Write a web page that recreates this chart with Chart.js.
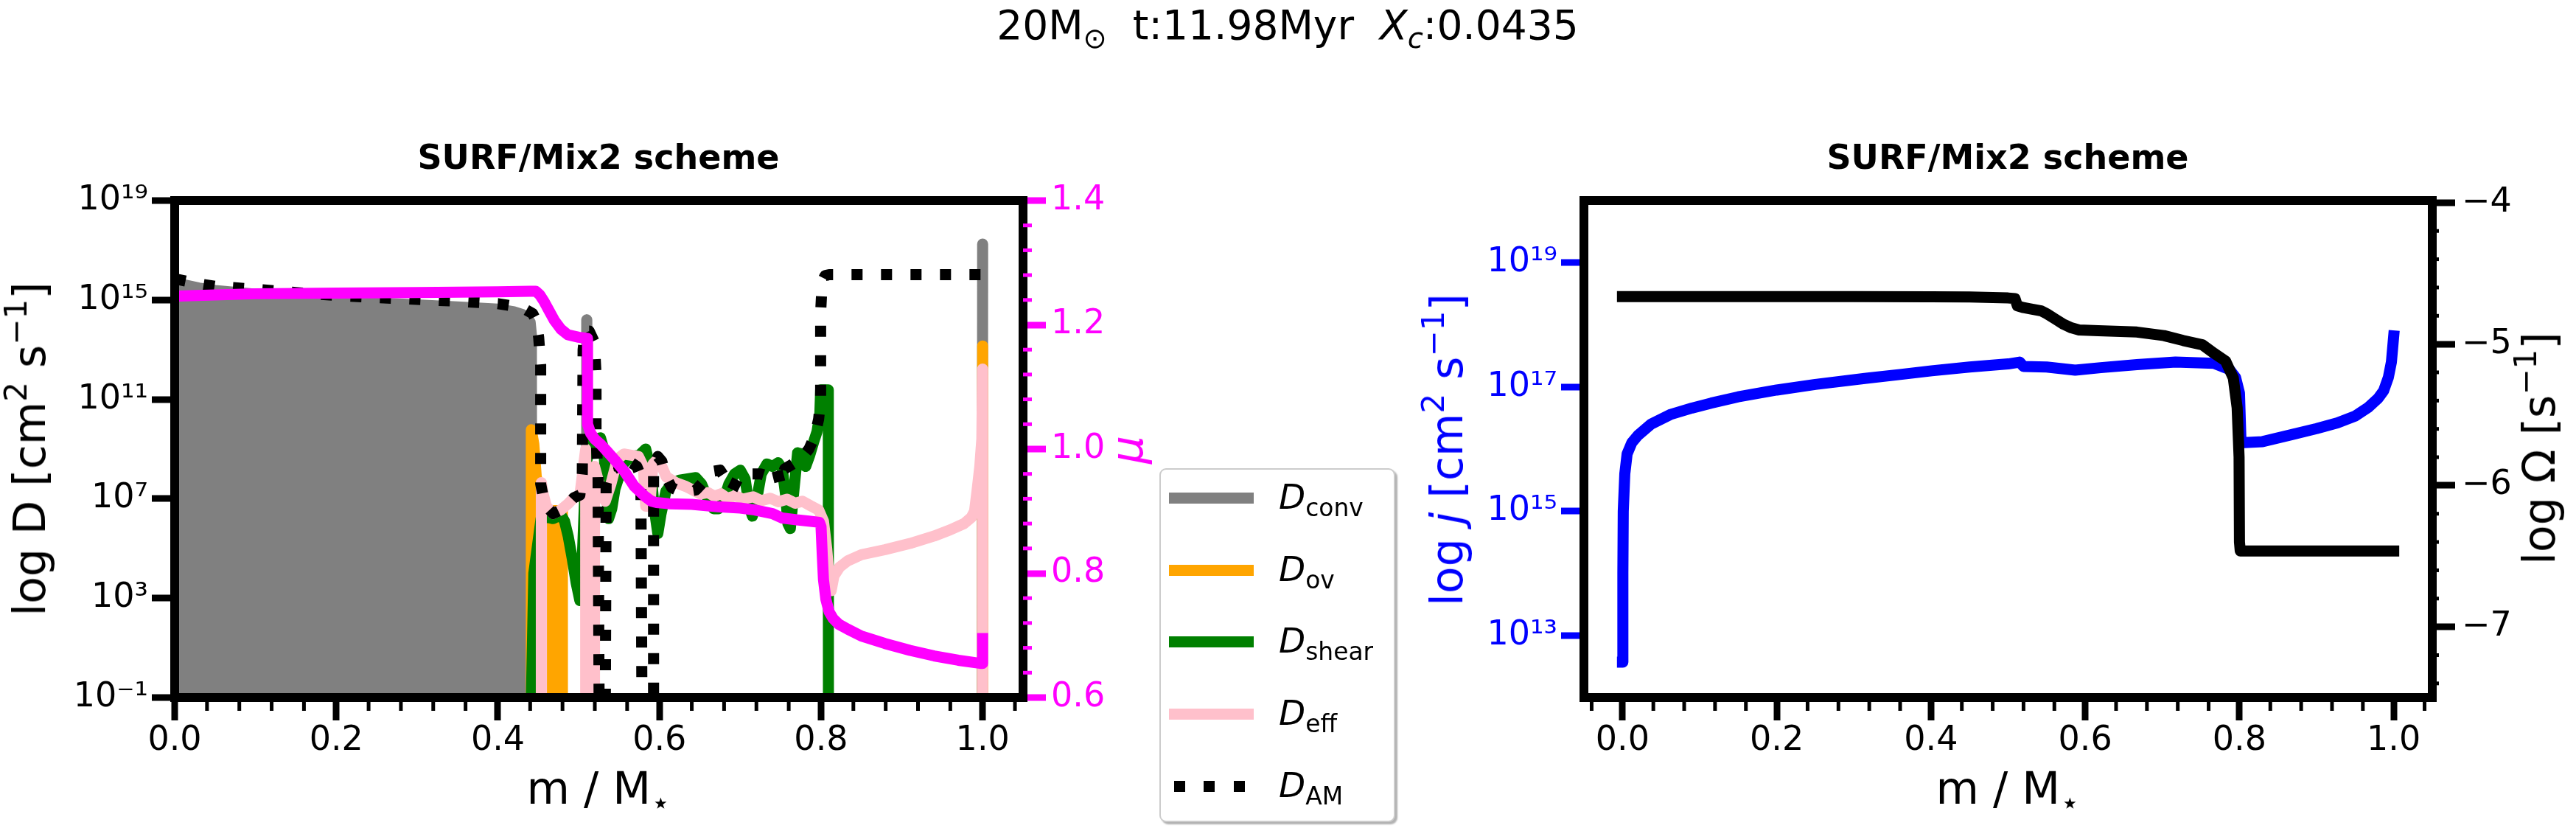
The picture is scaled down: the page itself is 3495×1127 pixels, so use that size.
<!DOCTYPE html>
<html><head><meta charset="utf-8">
<script src="https://cdn.jsdelivr.net/npm/chart.js@4.4.1/dist/chart.umd.min.js"></script>
<style>
html,body{margin:0;padding:0;background:#fff;}
body{width:3495px;height:1127px;position:relative;overflow:hidden;font-family:"DejaVu Sans",sans-serif;}
canvas{position:absolute;left:0;top:0;}
.t{position:absolute;white-space:pre;line-height:1.2;transform:translate(-50%,-50%);color:#000;}
.rot{transform:translate(-50%,-50%) rotate(-90deg);}
.sp{font-size:70%;vertical-align:0.6em;line-height:0;}
.sb{font-size:70%;vertical-align:-0.3em;line-height:0;}
#legend{position:absolute;left:1573px;top:635px;width:320px;height:480px;box-sizing:border-box;border:2px solid #cccccc;border-radius:9px;background:#fff;box-shadow:3px 3px 2px rgba(0,0,0,0.3);}
.ls{position:absolute;height:15px;width:115px;left:1586px;}
.lt{position:absolute;left:1735px;font-size:47px;line-height:1.2;transform:translate(0,-50%);white-space:pre;}
</style></head><body>
<canvas id="c1" width="3495" height="1127"></canvas>
<canvas id="c2" width="3495" height="1127"></canvas>

<div class="t" style="left:1747px;top:34px;font-size:55px;">20M<span class="sb">⊙</span>  t:11.98Myr  <i>X</i><span class="sb"><i>c</i></span>:0.0435</div>
<div class="t" style="left:812px;top:214px;font-size:46px;font-weight:bold;">SURF/Mix2 scheme</div>
<div class="t" style="left:2724px;top:214px;font-size:46px;font-weight:bold;">SURF/Mix2 scheme</div>
<div class="t" style="left:812px;top:1069px;font-size:60px;">m / M<span class="sb">⋆</span></div>
<div class="t" style="left:2724px;top:1069px;font-size:60px;">m / M<span class="sb">⋆</span></div>
<div class="t rot" style="left:40px;top:609px;font-size:60px;">log D [cm<span class="sp">2</span> s<span class="sp">−1</span>]</div>
<div class="t rot" style="left:1529px;top:610px;font-size:60px;color:#FF00FF;"><i>μ</i></div>
<div class="t rot" style="left:1963px;top:610px;font-size:60px;color:#0000FF;">log <i>j</i> [cm<span class="sp">2</span> s<span class="sp">−1</span>]</div>
<div class="t rot" style="left:3445px;top:608px;font-size:60px;">log Ω [s<span class="sp">−1</span>]</div>

<div id="legend"></div>
<div class="ls" style="top:667.5px;background:#808080"></div>
<div class="ls" style="top:765.5px;background:#FFA500"></div>
<div class="ls" style="top:862.5px;background:#008000"></div>
<div class="ls" style="top:960.5px;background:#FFC0CB"></div>
<div class="ls" style="top:1058.5px;left:1593px;width:96px;background:repeating-linear-gradient(to right,#000 0px,#000 15px,rgba(0,0,0,0) 15px,rgba(0,0,0,0) 40.5px)"></div>
<div class="lt" style="top:674px"><i>D</i><span class="sb">conv</span></div>
<div class="lt" style="top:772px"><i>D</i><span class="sb">ov</span></div>
<div class="lt" style="top:869px"><i>D</i><span class="sb">shear</span></div>
<div class="lt" style="top:967px"><i>D</i><span class="sb">eff</span></div>
<div class="lt" style="top:1065px"><i>D</i><span class="sb">AM</span></div>

<script>
// ---------- tick labels ----------
const xTicks = [0, 0.2, 0.4, 0.6, 0.8, 1.0];
const dTicks = [-1, 3, 7, 11, 15, 19];
const muTicks = [0.6, 0.8, 1.0, 1.2, 1.4];
const jTicks = [13, 15, 17, 19];
const omegaTicks = [-7, -6, -5, -4];

// ---------- left panel: log D (values below -1 = zero / off the axis) ----------
const convX = [0, 0.01, 0.03, 0.05, 0.1, 0.15, 0.2, 0.25, 0.3, 0.35, 0.4, 0.42, 0.43, 0.436, 0.44, 0.4415, 0.442, 0.5099, 0.51, 0.5101, 0.9995, 1.0];
const convY = [15.74, 15.62, 15.48, 15.38, 15.23, 15.1, 14.97, 14.88, 14.8, 14.72, 14.63, 14.52, 14.42, 14.3, 14.1, 13.6, -6, -6, 14.2, -6, -6, 17.25];

const ovX = [0, 0.4414, 0.4414, 0.4445, 0.4475, 0.452, 0.4535, 0.4676, 0.4676, 0.4799, 0.4799, 0.9999, 1.0, 1.0];
const ovY = [-6, -6, 9.78, 9.2, 7.9, 7.2, -6, -6, 6.52, 6.52, -6, -6, 13.15, -6];

const shearX = [0, 0.4385, 0.4445, 0.4535, 0.462, 0.4685, 0.478, 0.4825, 0.487, 0.492, 0.497, 0.5015, 0.505, 0.509, 0.515, 0.521, 0.527, 0.531, 0.534, 0.537, 0.541, 0.545, 0.555, 0.565, 0.575, 0.583, 0.589, 0.594, 0.598, 0.602, 0.608, 0.615, 0.625, 0.635, 0.645, 0.652, 0.66, 0.667, 0.673, 0.679, 0.686, 0.693, 0.7, 0.706, 0.711, 0.715, 0.72, 0.726, 0.733, 0.74, 0.747, 0.752, 0.756, 0.759, 0.762, 0.766, 0.771, 0.776, 0.781, 0.786, 0.791, 0.795, 0.7985, 0.7995, 0.809, 0.8092, 1.0];
const shearY = [-6, -6, 4.0, 6.2, 6.25, 6.2, 6.35, 6.1, 5.5, 4.6, 3.6, 2.9, 5.0, 8.4, 9.2, 9.4, 9.45, 9.0, 7.6, 6.2, 6.6, 7.4, 8.4, 8.7, 8.75, 9.0, 8.2, 6.5, 5.6, 6.4, 7.3, 7.6, 7.75, 7.8, 7.85, 7.6, 7.0, 6.6, 6.6, 6.9, 7.6, 8.0, 8.15, 7.8, 6.7, 6.3, 6.9, 8.0, 8.4, 8.3, 8.45, 8.2, 7.2, 6.0, 5.8, 7.2, 8.85, 8.8, 8.3, 8.75, 9.3, 9.7, 10.4, 11.38, 11.38, -6, -6];

const effX = [0, 0.4538, 0.4538, 0.456, 0.46, 0.4685, 0.478, 0.487, 0.494, 0.5015, 0.5087, 0.5087, 0.5196, 0.5196, 0.527, 0.533, 0.54, 0.548, 0.556, 0.565, 0.574, 0.58, 0.583, 0.588, 0.592, 0.598, 0.603, 0.6085, 0.62, 0.633, 0.651, 0.66, 0.668, 0.676, 0.684, 0.694, 0.703, 0.716, 0.726, 0.737, 0.747, 0.758, 0.768, 0.777, 0.787, 0.797, 0.803, 0.807, 0.8105, 0.8125, 0.816, 0.823, 0.833, 0.85, 0.879, 0.91, 0.94, 0.96, 0.977, 0.986, 0.99, 0.993, 0.9965, 0.999, 1.0, 1.0];
const effY = [-6, -6, 7.65, 7.2, 6.7, 6.4, 6.55, 6.8, 7.04, 7.15, 9.0, -6, -6, 8.3, 7.4, 6.9, 7.6, 8.6, 8.8, 8.75, 8.7, 8.3, 6.7, 6.7, 8.4, 8.6, 8.3, 7.88, 7.65, 7.49, 7.19, 7.25, 7.1, 7.2, 7.02, 7.12, 6.98, 7.08, 6.92, 7.02, 6.88, 6.98, 6.82, 6.9, 6.72, 6.55, 6.1, 5.0, 3.6, 3.3, 3.9, 4.25, 4.5, 4.75, 4.95, 5.2, 5.5, 5.75, 6.0, 6.25, 6.5, 7.3, 8.3, 9.4, 12.22, -6];

const amX = [0, 0.03, 0.05, 0.1, 0.15, 0.2, 0.25, 0.3, 0.35, 0.4, 0.42, 0.435, 0.443, 0.447, 0.4505, 0.453, 0.453, 0.456, 0.46, 0.4685, 0.478, 0.487, 0.494, 0.5015, 0.5045, 0.5055, 0.508, 0.513, 0.5195, 0.5215, 0.5215, 0.524, 0.526, 0.5325, 0.534, 0.54, 0.548, 0.556, 0.565, 0.572, 0.577, 0.579, 0.5927, 0.5927, 0.598, 0.603, 0.608, 0.615, 0.625, 0.635, 0.645, 0.655, 0.665, 0.675, 0.682, 0.69, 0.697, 0.705, 0.715, 0.725, 0.735, 0.745, 0.75, 0.755, 0.765, 0.775, 0.785, 0.792, 0.797, 0.7995, 0.7995, 0.8015, 0.805, 0.81, 1.0];
const amY = [15.85, 15.65, 15.55, 15.43, 15.3, 15.18, 15.1, 15.02, 14.95, 14.85, 14.75, 14.6, 14.45, 14.2, 13.5, 12.4, 7.6, 7.1, 6.7, 6.4, 6.55, 6.8, 7.04, 7.15, 8.0, 13.0, 13.75, 13.75, 13.3, 12.0, 9.5, 7.9, -6, -6, 7.6, 8.3, 8.35, 8.0, 8.45, 8.3, 7.9, -6, -6, 8.2, 8.7, 8.5, 7.9, 7.45, 7.3, 7.3, 7.35, 7.7, 8.1, 8.15, 7.8, 7.35, 7.8, 8.05, 8.0, 8.0, 7.9, 8.2, 7.55, 8.2, 8.4, 8.6, 9.0, 9.5, 10.2, 11.0, 14.5, 15.75, 15.98, 16.02, 16.02];

// mean molecular weight (right axis)
const muX = [0, 0.02, 0.05, 0.1, 0.2, 0.3, 0.4, 0.44, 0.447, 0.452, 0.457, 0.462, 0.47, 0.478, 0.4866, 0.5, 0.511, 0.511, 0.515, 0.52, 0.527, 0.5354, 0.545, 0.5567, 0.5689, 0.581, 0.59, 0.5963, 0.6117, 0.64, 0.6725, 0.7, 0.718, 0.74, 0.7517, 0.77, 0.785, 0.798, 0.8, 0.8015, 0.803, 0.806, 0.81, 0.815, 0.822, 0.833, 0.85, 0.879, 0.91, 0.94, 0.97, 0.997, 1.0, 1.0];
const muY = [1.246, 1.247, 1.248, 1.25, 1.251, 1.252, 1.253, 1.254, 1.254, 1.248, 1.238, 1.226, 1.207, 1.193, 1.184, 1.18, 1.178, 1.04, 1.025, 1.016, 1.008, 0.996, 0.982, 0.964, 0.94, 0.925, 0.916, 0.914, 0.912, 0.911, 0.907, 0.905, 0.902, 0.896, 0.889, 0.886, 0.884, 0.882, 0.875, 0.83, 0.79, 0.758, 0.738, 0.727, 0.718, 0.71, 0.699, 0.687, 0.676, 0.667, 0.66, 0.655, 0.655, 0.704];

// ---------- right panel ----------
const jX = [0, 0.0005, 0.001, 0.003, 0.006, 0.012, 0.02, 0.037, 0.063, 0.09, 0.115, 0.15, 0.2, 0.25, 0.316, 0.36, 0.401, 0.45, 0.5, 0.515, 0.52, 0.55, 0.587, 0.62, 0.667, 0.717, 0.767, 0.787, 0.795, 0.8, 0.802, 0.83, 0.867, 0.9, 0.927, 0.95, 0.967, 0.98, 0.987, 0.993, 0.997, 1.0];
const jY = [12.57, 14.0, 15.0, 15.6, 15.92, 16.1, 16.22, 16.4, 16.56, 16.66, 16.74, 16.84, 16.95, 17.04, 17.14, 17.2, 17.26, 17.32, 17.37, 17.4, 17.33, 17.32, 17.27, 17.31, 17.36, 17.4, 17.38, 17.28, 17.15, 16.9, 16.1, 16.12, 16.23, 16.33, 16.42, 16.53, 16.67, 16.82, 16.94, 17.15, 17.4, 17.82];

const omegaX = [0, 0.1, 0.2, 0.3, 0.4, 0.45, 0.5, 0.509, 0.512, 0.52, 0.53, 0.543, 0.55, 0.562, 0.572, 0.582, 0.592, 0.617, 0.667, 0.702, 0.727, 0.752, 0.767, 0.782, 0.792, 0.797, 0.7995, 0.8, 0.801, 1.0];
const omegaY = [-4.664, -4.664, -4.664, -4.664, -4.665, -4.667, -4.674, -4.678, -4.73, -4.742, -4.752, -4.765, -4.785, -4.826, -4.86, -4.885, -4.9, -4.905, -4.915, -4.94, -4.975, -5.005, -5.065, -5.12, -5.24, -5.45, -5.8, -6.4, -6.463, -6.463];

// ---------- minor tick positions ----------
const xMinorL = [], xMinorR = [], muMinor = [], omegaMinor = [];
for (let i = 1; i <= 26; i++) if (i % 5) xMinorL.push(i * 0.04);
for (let i = -1; i <= 26; i++) if (i % 5) xMinorR.push(i * 0.04);
for (let i = 1; i < 20; i++) if (i % 5) muMinor.push(0.6 + i * 0.04);
for (let i = 3; i < 20; i++) if (i % 5) omegaMinor.push(-8 + i * 0.2);

// ---------- helpers ----------
Chart.defaults.font.family = "'DejaVu Sans'";
const SUP = {'-':'\u207B','0':'\u2070','1':'\u00B9','2':'\u00B2','3':'\u00B3','4':'\u2074','5':'\u2075','6':'\u2076','7':'\u2077','8':'\u2078','9':'\u2079'};
const sup = s => String(s).split('').map(c => SUP[c] || c).join('');
const pow10 = v => '10' + sup(v);
const fix1 = v => Number(v).toFixed(1);
const negLab = v => (v < 0 ? '\u2212' : '') + Math.abs(v);

function scale(axisName, pos, min, max, ticks, color, fmt, box, pad) {
  const horiz = axisName === 'x';
  const o = {
    type: 'linear', axis: axisName, position: pos, min: min, max: max,
    border: {display: true, width: 12, color: '#000', z: 1},
    grid: {display: !!ticks, drawOnChartArea: false, drawTicks: !!ticks, tickLength: 31, tickWidth: 9, lineWidth: 12, color: color, tickColor: color, z: 1},
    ticks: {display: !!ticks, color: color, font: {family: 'DejaVu Sans', size: 46}, padding: pad, autoSkip: false, maxRotation: 0, minRotation: 0, callback: fmt || (v => v), z: 1},
    afterFit: s => { if (horiz) s.height = box; else s.width = box; }
  };
  if (ticks) o.afterBuildTicks = s => { s.ticks = ticks.map(v => ({value: v})); };
  return o;
}

function ds(xs, ys, color, width, yAxisID, order, extra) {
  return Object.assign({
    data: xs.map((x, i) => ({x: x, y: ys[i]})),
    borderColor: color, backgroundColor: color, borderWidth: width,
    pointRadius: 0, pointHoverRadius: 0, pointHitRadius: 0, tension: 0, fill: false, clip: 0,
    borderJoinStyle: 'round', borderCapStyle: 'round', xAxisID: 'x', yAxisID: yAxisID, order: order
  }, extra || {});
}

function minorPlugin(list) {
  return {
    id: 'minorTicks',
    afterDraw(chart) {
      const ctx = chart.ctx, a = chart.chartArea;
      list.forEach(m => {
        const s = chart.scales[m.scale];
        ctx.save();
        ctx.strokeStyle = m.color; ctx.lineWidth = m.width; ctx.lineCap = 'butt';
        m.values.forEach(v => {
          const p = s.getPixelForValue(v);
          ctx.beginPath();
          if (s.isHorizontal()) { ctx.moveTo(p, a.bottom); ctx.lineTo(p, a.bottom + m.len); }
          else if (s.position === 'left') { ctx.moveTo(a.left, p); ctx.lineTo(a.left - m.len, p); }
          else { ctx.moveTo(a.right, p); ctx.lineTo(a.right + m.len, p); }
          ctx.stroke();
        });
        ctx.restore();
      });
    }
  };
}

function makeChart(id, datasets, scales, minors) {
  return new Chart(document.getElementById(id), {
    type: 'line',
    data: {datasets: datasets},
    options: {
      responsive: false, animation: false, devicePixelRatio: 1, events: [],
      layout: {padding: 0},
      plugins: {legend: {display: false}, tooltip: {enabled: false}, title: {display: false}},
      scales: scales
    },
    plugins: [minorPlugin(minors)]
  });
}

const W = 3495, H = 1127;

// left panel
makeChart('c1', [
  ds(convX, convY, '#808080', 15, 'yD', 5, {fill: 'start'}),
  ds(ovX, ovY, '#FFA500', 15, 'yD', 4),
  ds(shearX, shearY, '#008000', 15, 'yD', 3),
  ds(effX, effY, '#FFC0CB', 15, 'yD', 2),
  ds(amX, amY, '#000000', 15, 'yD', 1, {borderDash: [15, 25], borderCapStyle: 'butt'}),
  ds(muX, muY, '#FF00FF', 15, 'yMu', 0, {borderCapStyle: 'butt'})
], {
  x: scale('x', 'bottom', 0, 1.05, xTicks, '#000', fix1, H - 946, 0),
  xTop: scale('x', 'top', 0, 1.05, null, '#000', null, 272, 0),
  yD: scale('y', 'left', -1, 19, dTicks, '#000', pow10, 237, 5),
  yMu: scale('y', 'right', 0.6, 1.4, muTicks, '#FF00FF', fix1, W - 1388, 7)
}, [
  {scale: 'x', values: xMinorL, len: 18, width: 5, color: '#000'},
  {scale: 'yMu', values: muMinor, len: 12, width: 5, color: '#FF00FF'}
]);

// right panel
makeChart('c2', [
  ds(omegaX, omegaY, '#000000', 15, 'yO', 0, {borderCapStyle: 'square'}),
  ds(jX, jY, '#0000FF', 15, 'yJ', 1, {borderCapStyle: 'square'})
], {
  x: scale('x', 'bottom', -0.05, 1.05, xTicks, '#000', fix1, H - 946, 0),
  xTop: scale('x', 'top', -0.05, 1.05, null, '#000', null, 272, 0),
  yJ: scale('y', 'left', 12, 20, jTicks, '#0000FF', pow10, 2149, 5),
  yO: scale('y', 'right', -7.5, -3.985, omegaTicks, '#000', negLab, W - 3300, 9)
}, [
  {scale: 'x', values: xMinorR, len: 18, width: 5, color: '#000'},
  {scale: 'yO', values: omegaMinor, len: 9, width: 5, color: '#000'}
]);
</script>
</body></html>
